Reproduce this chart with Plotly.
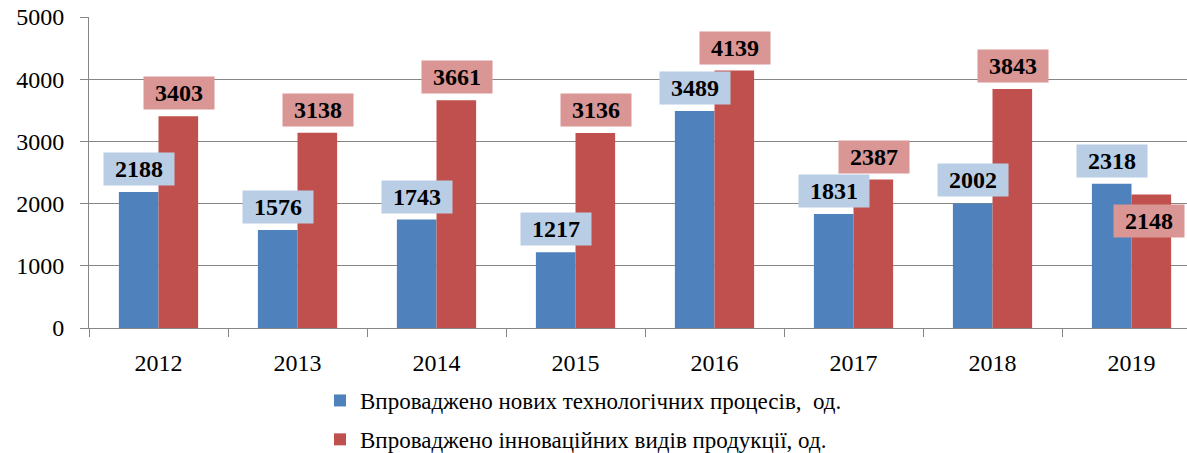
import plotly.graph_objects as go

years = ["2012", "2013", "2014", "2015", "2016", "2017", "2018", "2019"]
tech_processes = [2188, 1576, 1743, 1217, 3489, 1831, 2002, 2318]
innov_products = [3403, 3138, 3661, 3136, 4139, 2387, 3843, 2148]
series_names = [
    "Впроваджено нових технологічних процесів,  од.",
    "Впроваджено інноваційних видів продукції, од.",
]
y_ticks = [0, 1000, 2000, 3000, 4000, 5000]

BLUE = "#4F81BD"
RED = "#C0504D"
BLUE_LBL = "#B9CDE5"
RED_LBL = "#D99694"
GRID = "#868686"
FONT = "Liberation Serif, Times New Roman, serif"
LEG_FONT = "Liberation Serif, DejaVu Serif, serif"

W, H = 1187, 453
ML, MT, MB = 89, 17, 125
plot_w = W - ML
plot_h = H - MT - MB
CAT_W = 139.0


def px_to_paper_x(px):
    return (px - ML) / plot_w


def px_to_paper_y(py):
    return (H - MB - py) / plot_h


fig = go.Figure()
fig.add_trace(go.Bar(x=years, y=tech_processes, name=series_names[0],
                     marker=dict(color=BLUE, line=dict(width=0)), legendgroup="a"))
fig.add_trace(go.Bar(x=years, y=innov_products, name=series_names[1],
                     marker=dict(color=RED, line=dict(width=0)), legendgroup="b"))

annots = []
for i, yr in enumerate(years):
    annots.append(dict(x=i, y=tech_processes[i], xref="x", yref="y",
                       text="<b>%d</b>" % tech_processes[i],
                       showarrow=False, xshift=-20, yshift=23, width=70, height=32, borderpad=0,
                       bgcolor=BLUE_LBL, font=dict(family=FONT, size=24, color="black")))
    inside = innov_products[i] < tech_processes[i]
    annots.append(dict(x=i, y=innov_products[i], xref="x", yref="y",
                       text="<b>%d</b>" % innov_products[i],
                       showarrow=False, xshift=17 if inside else 20, yshift=-27 if inside else 23,
                       width=70, height=32, borderpad=0,
                       bgcolor=RED_LBL, font=dict(family=FONT, size=24, color="black")))

fig.update_layout(
    width=W, height=H,
    margin=dict(l=ML, r=0, t=MT, b=MB, autoexpand=False),
    paper_bgcolor="white", plot_bgcolor="white",
    barmode="group", bargap=0.43, bargroupgap=0,
    font=dict(family=FONT, size=24, color="black"),
    showlegend=True,
    annotations=annots,
    legend=dict(x=px_to_paper_x(320), y=px_to_paper_y(379), xanchor="left", yanchor="top",
                orientation="v", tracegroupgap=6,
                font=dict(family=LEG_FONT, size=23, color="black"), bgcolor="rgba(0,0,0,0)"),
)

fig.update_xaxes(
    type="category", range=[-0.5, -0.5 + plot_w / CAT_W],
    showline=True, linecolor=GRID, linewidth=1,
    ticks="outside", tickson="boundaries", ticklen=8, tickcolor=GRID, tickwidth=1,
    tickfont=dict(family=FONT, size=24), ticklabelstandoff=13,
    showgrid=False,
)
fig.update_yaxes(
    range=[0, 5000], tickvals=y_ticks,
    showline=True, linecolor=GRID, linewidth=1,
    showgrid=True, gridcolor=GRID, gridwidth=1,
    ticks="outside", ticklen=8, tickcolor=GRID, tickwidth=1,
    tickfont=dict(family=FONT, size=24), ticklabelstandoff=11,
    zeroline=False,
)

fig.write_html("out.html", config={"displayModeBar": False},
               post_script="document.body.style.margin='0';")
